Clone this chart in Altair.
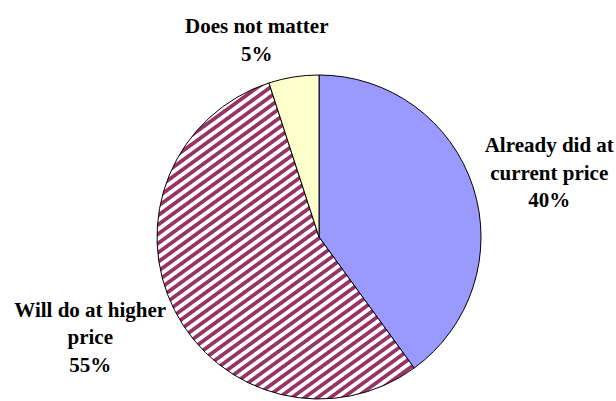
import math
import altair as alt
import pandas as pd

# ---- data ----
categories = ["Already did at\ncurrent price", "Will do at higher\nprice", "Does not matter"]
shares = [40, 55, 5]
slice_order = [1, 2, 3]

df = pd.DataFrame({"cat": categories, "value": shares, "ord": slice_order})

# ---- diagonal hatch for the middle slice, built as a striped linear gradient ----
ang = math.radians(36)          # stripe angle above horizontal
bw, bh = 257.0, 316.0           # approx bounding box of the hatched slice (px)
period = 7.6                    # perpendicular stripe period (px)
u = math.sin(ang) / bh
v = math.cos(ang) / bw
k = (u + v) / (u * u + v * v)
gx, gy = k * u, k * v
D = bw * math.sin(ang) + bh * math.cos(ang)
N = int(round(D / period))
stops = []
for i in range(N + 1):
    p0 = i / N
    p = 1.0 / N
    for off, col in [(0.0, "#ffffff"), (0.12, "#993366"), (0.5, "#993366"), (0.62, "#ffffff")]:
        o = p0 + off * p
        if o <= 1.0:
            stops.append({"offset": round(o, 5), "color": col})
hatch = {"gradient": "linear", "x1": 0, "y1": 0, "x2": gx, "y2": gy, "stops": stops}

CX, CY, R = 319, 237, 162
FONT = "'Liberation Serif'"

base = alt.Chart(df).encode(
    theta=alt.Theta("value:Q", stack=True),
    order=alt.Order("ord:Q"),
)

pie = base.mark_arc(radius=R, stroke="black", strokeWidth=1).encode(
    x=alt.value(CX),
    y=alt.value(CY),
    fill={
        "condition": [
            {"test": "datum.ord === 1", "value": "#9999FF"},
            {"test": "datum.ord === 2", "value": hatch},
        ],
        "value": "#FFFFCC",
    },
)


def label_layer(ordv, radius, dx, dy):
    return base.transform_calculate(
        label="datum.cat + '\\n' + datum.value + '%'"
    ).mark_text(
        radius=radius,
        dx=dx,
        dy=dy,
        font=FONT,
        fontSize=21,
        fontWeight="bold",
        lineBreak="\n",
        lineHeight=27.5,
        align="center",
        baseline="middle",
        color="black",
    ).encode(
        x=alt.value(CX),
        y=alt.value(CY),
        text=alt.condition(f"datum.ord === {ordv}", alt.Text("label:N"), alt.value("")),
    )


chart = alt.layer(
    pie,
    label_layer(1, 240, 2, -16.5),
    label_layer(2, 250, -6, -39.5),
    label_layer(3, 200, -31, -12),
).properties(
    width=616, height=401, padding=0, autosize="none", background="white"
).configure_view(stroke=None)

chart.save("out.html", embed_options={"renderer": "svg", "actions": False})
